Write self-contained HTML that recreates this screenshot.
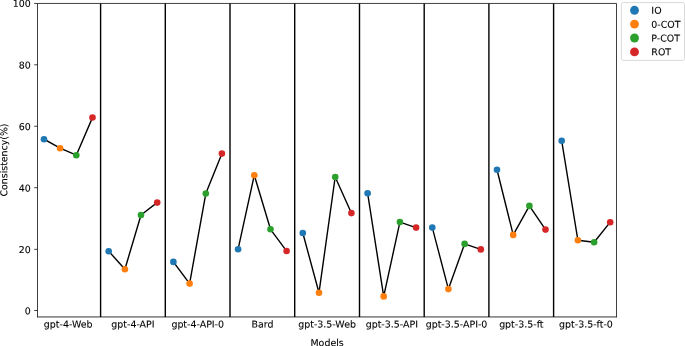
<!DOCTYPE html>
<html><head><meta charset="utf-8"><title>Consistency chart</title>
<style>html,body{margin:0;padding:0;background:#fff}svg{display:block}text{font-family:"DejaVu Sans","Liberation Sans",sans-serif;font-size:9.45px;fill:#000;stroke:#000;stroke-width:0.1px;text-rendering:geometricPrecision}</style></head>
<body>
<svg width="685" height="346" viewBox="0 0 685 346">
<rect width="685" height="346" fill="#fff"/>
<polyline fill="none" stroke="#000" stroke-width="1.4" stroke-linecap="square" stroke-linejoin="round" points="44.0,139.2 60.1,148.2 76.3,155.2 92.5,117.5"/>
<polyline fill="none" stroke="#000" stroke-width="1.4" stroke-linecap="square" stroke-linejoin="round" points="108.7,251.2 124.9,269.2 141.0,215.0 157.2,202.6"/>
<polyline fill="none" stroke="#000" stroke-width="1.4" stroke-linecap="square" stroke-linejoin="round" points="173.4,261.9 189.6,283.6 205.8,193.6 221.9,153.6"/>
<polyline fill="none" stroke="#000" stroke-width="1.4" stroke-linecap="square" stroke-linejoin="round" points="238.1,249.2 254.3,175.2 270.5,229.3 286.6,251.0"/>
<polyline fill="none" stroke="#000" stroke-width="1.4" stroke-linecap="square" stroke-linejoin="round" points="302.8,233.0 319.0,292.7 335.2,177.0 351.4,213.1"/>
<polyline fill="none" stroke="#000" stroke-width="1.4" stroke-linecap="square" stroke-linejoin="round" points="367.6,193.2 383.7,296.4 399.9,222.1 416.1,227.6"/>
<polyline fill="none" stroke="#000" stroke-width="1.4" stroke-linecap="square" stroke-linejoin="round" points="432.3,227.6 448.4,289.1 464.6,243.9 480.8,249.4"/>
<polyline fill="none" stroke="#000" stroke-width="1.4" stroke-linecap="square" stroke-linejoin="round" points="497.0,169.7 513.2,234.9 529.4,205.9 545.5,229.6"/>
<polyline fill="none" stroke="#000" stroke-width="1.4" stroke-linecap="square" stroke-linejoin="round" points="561.7,140.8 577.9,240.3 594.1,242.2 610.2,222.2"/>
<line x1="100.6" y1="3.5" x2="100.6" y2="316.9" stroke="#000" stroke-width="1.4"/>
<line x1="165.3" y1="3.5" x2="165.3" y2="316.9" stroke="#000" stroke-width="1.4"/>
<line x1="230.0" y1="3.5" x2="230.0" y2="316.9" stroke="#000" stroke-width="1.4"/>
<line x1="294.7" y1="3.5" x2="294.7" y2="316.9" stroke="#000" stroke-width="1.4"/>
<line x1="359.5" y1="3.5" x2="359.5" y2="316.9" stroke="#000" stroke-width="1.4"/>
<line x1="424.2" y1="3.5" x2="424.2" y2="316.9" stroke="#000" stroke-width="1.4"/>
<line x1="488.9" y1="3.5" x2="488.9" y2="316.9" stroke="#000" stroke-width="1.4"/>
<line x1="553.6" y1="3.5" x2="553.6" y2="316.9" stroke="#000" stroke-width="1.4"/>
<circle cx="44.0" cy="139.2" r="3.3" fill="#1f77b4"/>
<circle cx="60.1" cy="148.2" r="3.3" fill="#ff7f0e"/>
<circle cx="76.3" cy="155.2" r="3.3" fill="#2ca02c"/>
<circle cx="92.5" cy="117.5" r="3.3" fill="#d62728"/>
<circle cx="108.7" cy="251.2" r="3.3" fill="#1f77b4"/>
<circle cx="124.9" cy="269.2" r="3.3" fill="#ff7f0e"/>
<circle cx="141.0" cy="215.0" r="3.3" fill="#2ca02c"/>
<circle cx="157.2" cy="202.6" r="3.3" fill="#d62728"/>
<circle cx="173.4" cy="261.9" r="3.3" fill="#1f77b4"/>
<circle cx="189.6" cy="283.6" r="3.3" fill="#ff7f0e"/>
<circle cx="205.8" cy="193.6" r="3.3" fill="#2ca02c"/>
<circle cx="221.9" cy="153.6" r="3.3" fill="#d62728"/>
<circle cx="238.1" cy="249.2" r="3.3" fill="#1f77b4"/>
<circle cx="254.3" cy="175.2" r="3.3" fill="#ff7f0e"/>
<circle cx="270.5" cy="229.3" r="3.3" fill="#2ca02c"/>
<circle cx="286.6" cy="251.0" r="3.3" fill="#d62728"/>
<circle cx="302.8" cy="233.0" r="3.3" fill="#1f77b4"/>
<circle cx="319.0" cy="292.7" r="3.3" fill="#ff7f0e"/>
<circle cx="335.2" cy="177.0" r="3.3" fill="#2ca02c"/>
<circle cx="351.4" cy="213.1" r="3.3" fill="#d62728"/>
<circle cx="367.6" cy="193.2" r="3.3" fill="#1f77b4"/>
<circle cx="383.7" cy="296.4" r="3.3" fill="#ff7f0e"/>
<circle cx="399.9" cy="222.1" r="3.3" fill="#2ca02c"/>
<circle cx="416.1" cy="227.6" r="3.3" fill="#d62728"/>
<circle cx="432.3" cy="227.6" r="3.3" fill="#1f77b4"/>
<circle cx="448.4" cy="289.1" r="3.3" fill="#ff7f0e"/>
<circle cx="464.6" cy="243.9" r="3.3" fill="#2ca02c"/>
<circle cx="480.8" cy="249.4" r="3.3" fill="#d62728"/>
<circle cx="497.0" cy="169.7" r="3.3" fill="#1f77b4"/>
<circle cx="513.2" cy="234.9" r="3.3" fill="#ff7f0e"/>
<circle cx="529.4" cy="205.9" r="3.3" fill="#2ca02c"/>
<circle cx="545.5" cy="229.6" r="3.3" fill="#d62728"/>
<circle cx="561.7" cy="140.8" r="3.3" fill="#1f77b4"/>
<circle cx="577.9" cy="240.3" r="3.3" fill="#ff7f0e"/>
<circle cx="594.1" cy="242.2" r="3.3" fill="#2ca02c"/>
<circle cx="610.2" cy="222.2" r="3.3" fill="#d62728"/>
<path d="M37.50 316.95V3.45H616.50V316.95" fill="none" stroke="#000" stroke-width="0.75" stroke-linecap="square"/>
<line x1="37.50" y1="316.95" x2="616.50" y2="316.95" stroke="#000" stroke-width="0.8" stroke-linecap="butt"/>
<line x1="34.2" y1="310.50" x2="37.5" y2="310.50" stroke="#000" stroke-width="0.75"/>
<text transform="translate(30.8,314.20) rotate(0.05)" text-anchor="end">0</text>
<line x1="34.2" y1="249.35" x2="37.5" y2="249.35" stroke="#000" stroke-width="0.75"/>
<text transform="translate(30.8,253.05) rotate(0.05)" text-anchor="end">20</text>
<line x1="34.2" y1="187.70" x2="37.5" y2="187.70" stroke="#000" stroke-width="0.75"/>
<text transform="translate(30.8,191.40) rotate(0.05)" text-anchor="end">40</text>
<line x1="34.2" y1="126.25" x2="37.5" y2="126.25" stroke="#000" stroke-width="0.75"/>
<text transform="translate(30.8,129.95) rotate(0.05)" text-anchor="end">60</text>
<line x1="34.2" y1="64.80" x2="37.5" y2="64.80" stroke="#000" stroke-width="0.75"/>
<text transform="translate(30.8,68.50) rotate(0.05)" text-anchor="end">80</text>
<line x1="34.2" y1="3.45" x2="37.5" y2="3.45" stroke="#000" stroke-width="0.75"/>
<text transform="translate(30.8,6.85) rotate(0.05)" text-anchor="end">100</text>
<text transform="translate(68.2,327.45) rotate(0.05)" text-anchor="middle">gpt-4-Web</text>
<text transform="translate(132.9,327.45) rotate(0.05)" text-anchor="middle">gpt-4-API</text>
<text transform="translate(197.7,327.45) rotate(0.05)" text-anchor="middle">gpt-4-API-0</text>
<text transform="translate(262.4,327.45) rotate(0.05)" text-anchor="middle">Bard</text>
<text transform="translate(327.1,327.45) rotate(0.05)" text-anchor="middle">gpt-3.5-Web</text>
<text transform="translate(391.8,327.45) rotate(0.05)" text-anchor="middle">gpt-3.5-API</text>
<text transform="translate(456.5,327.45) rotate(0.05)" text-anchor="middle">gpt-3.5-API-0</text>
<text transform="translate(521.3,327.45) rotate(0.05)" text-anchor="middle">gpt-3.5-ft</text>
<text transform="translate(586.0,327.45) rotate(0.05)" text-anchor="middle">gpt-3.5-ft-0</text>
<text transform="translate(327.1,346.0) rotate(0.05)" text-anchor="middle">Models</text>
<text transform="translate(7.2,160.0) rotate(-89.95)" text-anchor="middle" style="font-size:9.4px">Consistency(%)</text>
<rect x="621.4" y="2.6" width="63.1" height="57.8" rx="1.9" ry="1.9" fill="#fff" fill-opacity="0.8" stroke="#ccc" stroke-opacity="0.8" stroke-width="0.94"/>
<circle cx="634.5" cy="10.3" r="4.45" fill="#1f77b4"/>
<text transform="translate(651.35,13.80) rotate(0.05)">IO</text>
<circle cx="634.5" cy="24.1" r="4.45" fill="#ff7f0e"/>
<text transform="translate(651.35,27.65) rotate(0.05)">0-COT</text>
<circle cx="634.5" cy="38.0" r="4.45" fill="#2ca02c"/>
<text transform="translate(651.35,41.50) rotate(0.05)">P-COT</text>
<circle cx="634.5" cy="51.9" r="4.45" fill="#d62728"/>
<text transform="translate(651.35,55.35) rotate(0.05)">ROT</text>
</svg>
</body></html>
